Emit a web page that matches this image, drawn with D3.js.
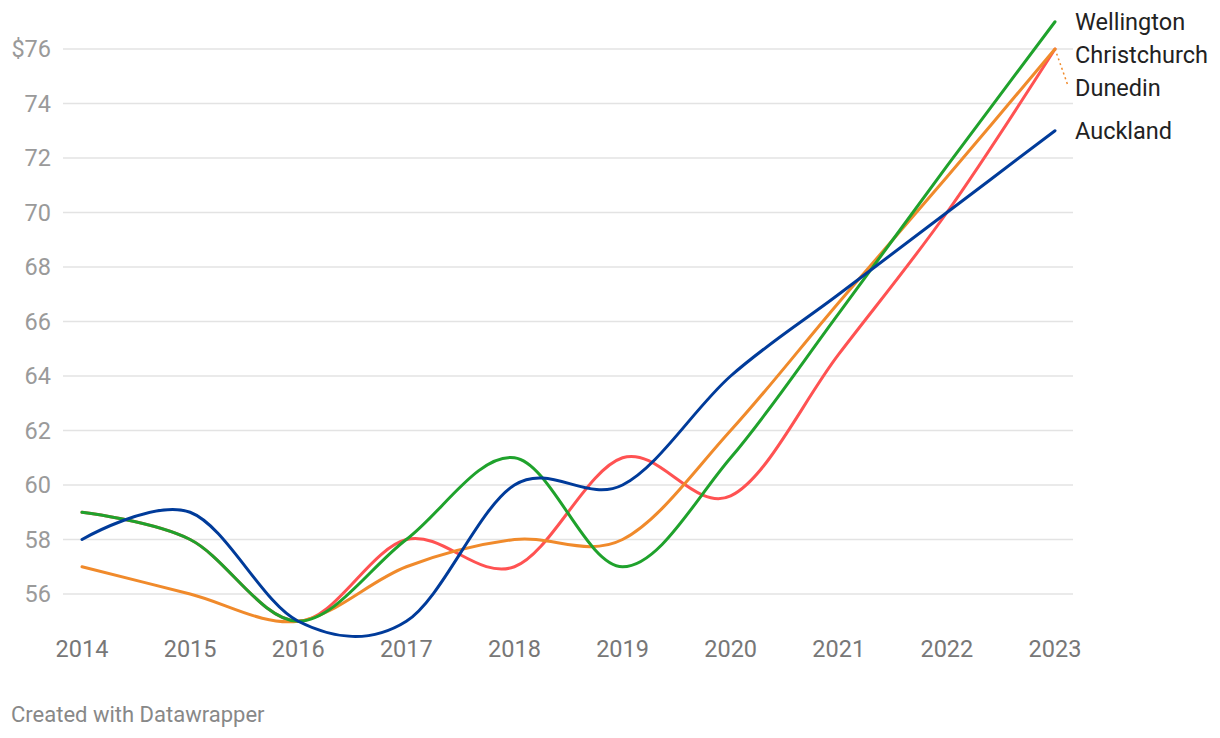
<!DOCTYPE html>
<html>
<head>
<meta charset="utf-8">
<script src="https://cdn.jsdelivr.net/npm/d3@7"></script>
<style>
  body { margin: 0; background: #fff; font-family: Roboto, "Noto Sans", sans-serif; }
  #chart { width: 1220px; height: 738px; }
  .grid line { stroke: #e3e3e3; stroke-width: 1.5; }
  .ytick { fill: #9a9a9a; font-size: 23.5px; }
  .xtick { fill: #777; font-size: 23.5px; }
  .series { fill: none; stroke-width: 3; stroke-linecap: round; }
  .label { fill: #222; font-size: 23.5px; }
  .credit { fill: #888; font-size: 22px; }
</style>
</head>
<body>
<div id="chart"></div>
<script>
var years = [2014, 2015, 2016, 2017, 2018, 2019, 2020, 2021, 2022, 2023];
var yTicks = [56, 58, 60, 62, 64, 66, 68, 70, 72, 74, 76];

var auckland     = [58, 59, 55, 55, 60, 60, 64, 67, 70, 73];
var wellington   = [59, 58, 55, 58, 61, 57, 61, 66.3, 71.7, 77];
var christchurch = [59, 58, 55, 58, 57, 61, 59.6, 64.8, 70, 76];
var dunedin      = [57, 56, 55, 57, 58, 58, 62, 66.7, 71.3, 76];

var cities = [
    {name: "Christchurch", values: christchurch, color: "#ff5252"},
    {name: "Dunedin", values: dunedin, color: "#f08a2b"},
    {name: "Wellington", values: wellington, color: "#1fa22c"},
    {name: "Auckland", values: auckland, color: "#003b9a"}
];

var width = 1220, height = 738;

var x = d3.scaleLinear().domain([2014, 2023]).range([82, 1055]),
    y = d3.scaleLinear().domain([56, 76]).range([594, 49]);

var svg = d3.select("#chart").append("svg")
    .attr("width", width)
    .attr("height", height);

// gridlines
svg.append("g")
    .attr("class", "grid")
    .selectAll("line")
    .data(yTicks)
    .enter().append("line")
    .attr("x1", 63)
    .attr("x2", 1073)
    .attr("y1", function (d) { return y(d); })
    .attr("y2", function (d) { return y(d); });

svg.append("g")
    .selectAll("text")
    .data(yTicks)
    .enter().append("text")
    .attr("class", "ytick")
    .attr("x", 51)
    .attr("y", function (d) { return y(d); })
    .attr("dy", "0.35em")
    .attr("text-anchor", "end")
    .text(function (d, i) { return i == yTicks.length - 1 ? "$" + d : d; });

svg.append("g")
    .selectAll("text")
    .data(years)
    .enter().append("text")
    .attr("class", "xtick")
    .attr("x", function (d) { return x(d); })
    .attr("y", 657)
    .attr("text-anchor", "middle")
    .text(function (d) { return d; });

var line = d3.line()
    .x(function (d, i) { return x(years[i]); })
    .y(function (d) { return y(d); })
    .curve(d3.curveCardinal);

svg.selectAll(".series")
    .data(cities)
    .enter().append("path")
    .attr("class", "series")
    .attr("stroke", function (d) { return d.color; })
    .attr("d", function (d) { return line(d.values); });

// end labels, pushed apart so they don't overlap
var labels = cities.map(function (c) {
    var v = c.values[c.values.length - 1];
    return {name: c.name, color: c.color, y0: y(v), y: y(v)};
});
labels.sort(function (a, b) { return a.y0 - b.y0 || (a.name == "Christchurch" ? -1 : 1); });
var gap = 33;
for (var i = 1; i < labels.length; i++) {
    if (labels[i].y - labels[i - 1].y < gap) labels[i].y = labels[i - 1].y + gap;
}

labels.forEach(function (l) {
    if (l.y - l.y0 > 12) {
        svg.append("line")
            .attr("x1", x(2023))
            .attr("y1", l.y0)
            .attr("x2", 1068)
            .attr("y2", l.y - 2)
            .attr("stroke", l.color)
            .attr("stroke-width", 1.5)
            .attr("stroke-dasharray", "2,3");
    }
    svg.append("text")
        .attr("class", "label")
        .attr("x", 1075)
        .attr("y", l.y)
        .attr("dy", "0.35em")
        .text(l.name);
});

svg.append("text")
    .attr("class", "credit")
    .attr("x", 11)
    .attr("y", 722)
    .text("Created with Datawrapper");
</script>
</body>
</html>
